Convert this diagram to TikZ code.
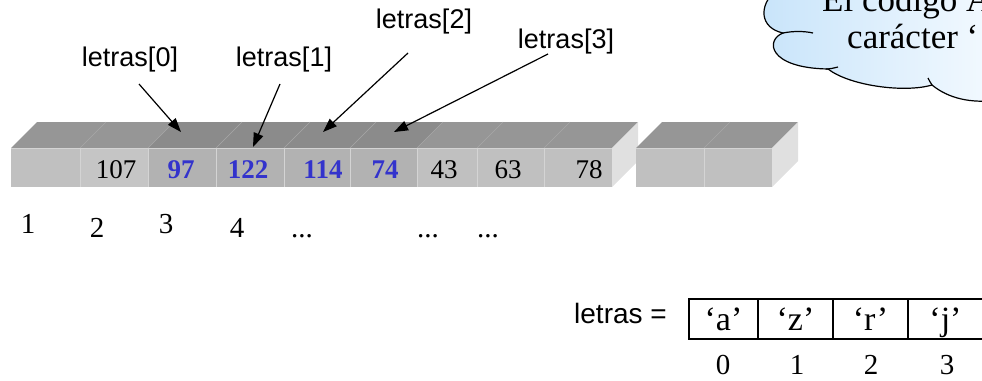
\documentclass[tikz,border=0pt]{standalone}
\usepackage{fontspec}
\setmainfont{Liberation Serif}
\newfontfamily\arialfont{Liberation Sans}
\usetikzlibrary{arrows.meta}

\definecolor{topgray}{HTML}{969696}
\definecolor{topdark}{HTML}{8B8B8B}
\definecolor{sidegray}{HTML}{E0E0E0}
\definecolor{cellgray}{HTML}{C0C0C0}
\definecolor{celllight}{HTML}{C5C5C5}
\definecolor{celldark}{HTML}{B2B2B2}
\definecolor{cellsep}{HTML}{D4D4D4}
\definecolor{topsep}{HTML}{A8A8A8}
\definecolor{valblue}{HTML}{3333CC}
\definecolor{cloudblue}{HTML}{C8E4FA}
\definecolor{cloudwhite}{HTML}{F4FAFF}

\tikzset{
  val/.style={anchor=base, inner sep=0pt, font=\fontsize{27}{31}\selectfont},
  hot/.style={anchor=base, inner sep=0pt, text=valblue, font=\fontsize{27}{31}\selectfont\bfseries},
  idx/.style={anchor=base, inner sep=0pt, font=\fontsize{29}{34}\selectfont},
  lbl/.style={inner sep=0pt, font=\arialfont\fontsize{27}{32}\selectfont},
  ptr/.style={-{Triangle[length=14pt,width=10pt]}, line width=1.2pt},
  slot/.style={draw, line width=1.3pt, minimum height=40pt, inner sep=0pt, outer sep=0pt,
    font=\fontsize{34}{40}\selectfont, text height=22pt, text depth=0pt},
}

\begin{document}
\begin{tikzpicture}[x=1pt,y=-1pt]
\clip (0,0) rectangle (982,380);

% ---- thought cloud (top right) ----
\path[left color=cloudblue, right color=cloudwhite, draw=black, line width=1.2pt]
  (776,-10) .. controls (758,6) and (760,28) .. (783,33)
  .. controls (765,40) and (768,68) .. (828,69)
  .. controls (850,86) and (905,93) .. (932,85)
  .. controls (948,98) and (970,104) .. (1000,100)
  -- (1000,-10) -- cycle;
\draw[line width=1.2pt] (783,33) .. controls (793,31) and (804,31) .. (813,33);
\draw[line width=1.2pt] (826,69) .. controls (830,69) and (834,68) .. (838,67);
\draw[line width=1.2pt] (932,85) .. controls (930,82) and (929,80) .. (928,78);
\node[anchor=base west, inner sep=0pt, font=\fontsize{35}{40}\selectfont] (cl1) at (822,11) {El código A};
\node[anchor=base west, inner sep=0pt, font=\fontsize{35}{40}\selectfont] (cl2) at (847,48) {carácter ‘};

% ---- memory strip, first block ----
\fill[topgray] (11,148) -- (37,122) -- (638,122) -- (612,148) -- cycle;
\fill[topdark] (148,148) -- (174,122) -- (443,122) -- (417,148) -- cycle;
\fill[sidegray] (612,148) -- (638,122) -- (638,161) -- (612,187) -- cycle;
\foreach \a/\b/\c in {11/80/cellgray, 80/148/celllight, 148/216/celldark, 216/284/celldark,
    284/350/celldark, 350/417/celldark, 417/477/cellgray, 477/544/cellgray, 544/612/cellgray}
  \fill[\c] (\a,148) rectangle (\b,187);
\foreach \x in {80,148,216,284,350,417,477,544} {
  \draw[cellsep, line width=1pt] (\x,148) -- (\x,187);
  \draw[topsep, line width=0.6pt] (\x,148) -- (\x+26,122);
}
\draw[cellsep, line width=1pt] (11,148.5) -- (612,148.5);

% ---- memory strip, second block ----
\fill[topgray] (636,148) -- (662,122) -- (798,122) -- (772,148) -- cycle;
\fill[sidegray] (772,148) -- (798,122) -- (798,161) -- (772,187) -- cycle;
\fill[cellgray] (636,148) rectangle (772,187);
\draw[cellsep, line width=1pt] (704,148) -- (704,187);
\draw[topsep, line width=0.6pt] (704,148) -- (730,122);
\draw[cellsep, line width=1pt] (636,148.5) -- (772,148.5);

% ---- cell contents ----
\node[val] (v1) at (116,178) {107};
\node[hot] (v2) at (181,178) {97};
\node[hot] (v3) at (248,178) {122};
\node[hot] (v4) at (323,178) {114};
\node[hot] (v5) at (385,178) {74};
\node[val] (v6) at (444,178) {43};
\node[val] (v7) at (508,178) {63};
\node[val] (v8) at (589,178) {78};

% ---- addresses ----
\node[idx] (n1) at (28,233) {1};
\node[idx] (n2) at (97,237) {2};
\node[idx] (n3) at (166,233) {3};
\node[idx] (n4) at (237,237) {4};
\node[idx] (n5) at (302,237) {...};
\node[idx] (n6) at (428,237) {...};
\node[idx] (n7) at (488,237) {...};

% ---- element labels and pointers ----
\node[lbl] (l0) at (130,60) {letras[0]};
\node[lbl] (l1) at (284,60) {letras[1]};
\node[lbl] (l2) at (424,22) {letras[2]};
\node[lbl] (l3) at (566,42) {letras[3]};
\coordinate (s0) at (139,84);  \coordinate (t0) at (181,132);
\coordinate (s1) at (280,84);  \coordinate (t1) at (253,147);
\coordinate (s2) at (408,53);  \coordinate (t2) at (323,132);
\coordinate (s3) at (548,54);  \coordinate (t3) at (394,132);
\draw[ptr] (s0) -- (t0);
\draw[ptr] (s1) -- (t1);
\draw[ptr] (s2) -- (t2);
\draw[ptr] (s3) -- (t3);

% ---- array view ----
\node[anchor=base east, inner sep=0pt, font=\arialfont\fontsize{28}{33}\selectfont] (arr) at (667,323) {letras =};
\node[slot, minimum width=69pt] (c0) at (723.5,319) {‘a’};
\node[slot, minimum width=75pt] (c1) at (795.5,319) {‘z’};
\node[slot, minimum width=75pt] (c2) at (870.5,319) {‘r’};
\node[slot, minimum width=75pt] (c3) at (945.5,319) {‘j’};
\node[idx] (i0) at (723,374) {0};
\node[idx] (i1) at (797,374) {1};
\node[idx] (i2) at (871,374) {2};
\node[idx] (i3) at (947,374) {3};
\end{tikzpicture}
\end{document}
